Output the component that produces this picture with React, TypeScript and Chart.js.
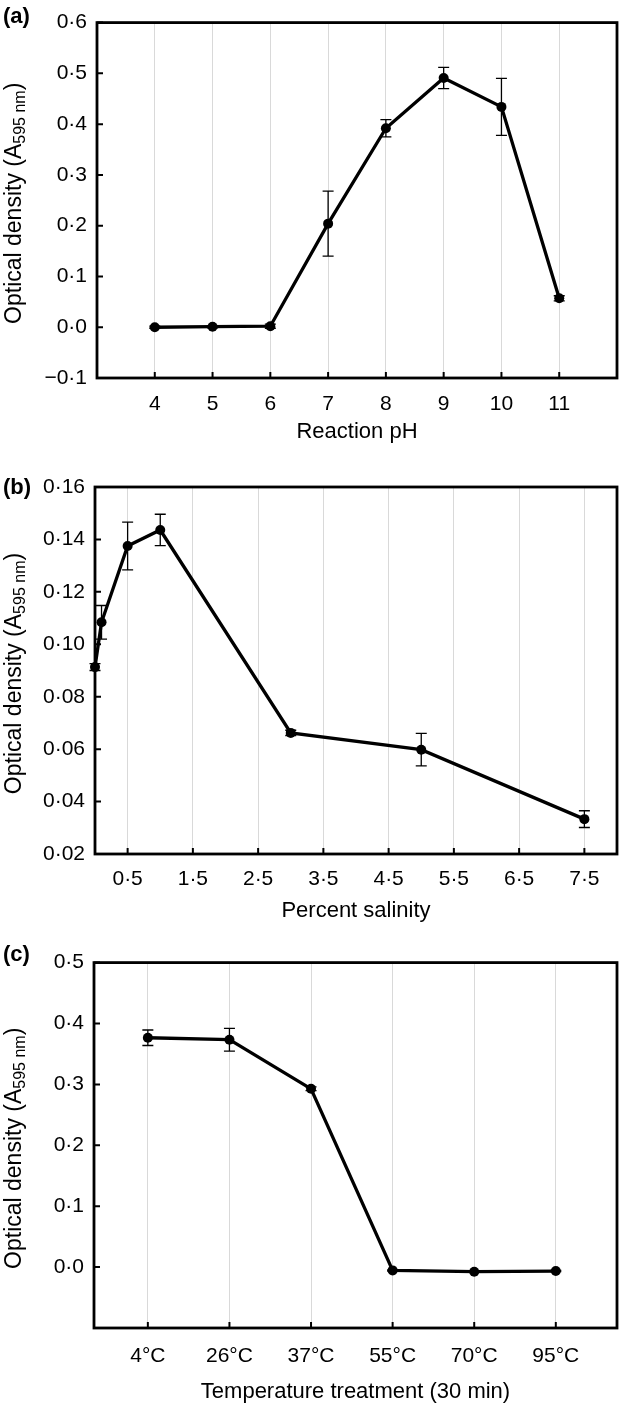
import React, { useEffect, useRef } from 'react';
import { Chart, registerables } from 'chart.js';

Chart.register(...registerables);

const FONT = "'Liberation Sans', Arial, Helvetica, sans-serif";

// ---- Panel (a): reaction pH ----
const phValues = [4, 5, 6, 7, 8, 9, 10, 11];
const phMeans = [0.0, 0.001, 0.002, 0.204, 0.392, 0.491, 0.434, 0.057];
const phErrors = [0.002, 0.002, 0.004, 0.064, 0.017, 0.021, 0.056, 0.005];
const phTicks = [4, 5, 6, 7, 8, 9, 10, 11];
const phYTicks = [-0.1, 0, 0.1, 0.2, 0.3, 0.4, 0.5, 0.6];

// ---- Panel (b): percent salinity ----
const salinityValues = [0, 0.1, 0.5, 1, 3, 5, 7.5];
const salinityMeans = [0.0913, 0.1084, 0.1375, 0.1436, 0.0662, 0.0598, 0.0333];
const salinityErrors = [0.0013, 0.0064, 0.0091, 0.006, 0.001, 0.0062, 0.0032];
const salinityTicks = [0.5, 1.5, 2.5, 3.5, 4.5, 5.5, 6.5, 7.5];
const salinityYTicks = [0.02, 0.04, 0.06, 0.08, 0.1, 0.12, 0.14, 0.16];

// ---- Panel (c): temperature treatment ----
const temperatureLabels = ['4°C', '26°C', '37°C', '55°C', '70°C', '95°C'];
const temperatureMeans = [0.3766, 0.3734, 0.2928, -0.0054, -0.0075, -0.0065];
const temperatureErrors = [0.0127, 0.0187, 0.003, 0.001, 0.001, 0.001];
const temperatureYTicks = [-0.1, 0, 0.1, 0.2, 0.3, 0.4, 0.5];

const fmt = (v: number, d: number) => {
  if (Math.abs(v) < 1e-9) return (0).toFixed(d).replace('.', '·');
  const s = Math.abs(v).toFixed(d).replace('.', '·');
  return v < 0 ? '−' + s : s;
};

type Panel = {
  key: string;
  label: string;
  top: number;
  height: number;
  plotLeft: number;
  plotRight: number;
  plotTop: number;
  plotBottom: number;
  xs: number[];
  ys: number[];
  errs: number[];
  xMin: number;
  xMax: number;
  xTicks: number[];
  xTickLabel: (v: number) => string;
  yMin: number;
  yMax: number;
  yTicks: number[];
  yTickLabel: (v: number) => string;
  xTitle: string;
  xTickPadding: number;
  xTitlePadding: number;
  panelLabelY: number;
};

const panels: Panel[] = [
  {
    key: 'a',
    label: '(a)',
    top: 0,
    height: 460,
    plotLeft: 97,
    plotRight: 620,
    plotTop: 13,
    plotBottom: 378,
    xs: phValues,
    ys: phMeans,
    errs: phErrors,
    xMin: 3,
    xMax: 12,
    xTicks: phTicks,
    xTickLabel: (v) => String(v),
    yMin: -0.1,
    yMax: 0.6,
    yTicks: phYTicks,
    yTickLabel: (v) => fmt(v, 1),
    xTitle: 'Reaction pH',
    xTickPadding: 14,
    xTitlePadding: 15,
    panelLabelY: 17,
  },
  {
    key: 'b',
    label: '(b)',
    top: 460,
    height: 480,
    plotLeft: 95,
    plotRight: 620,
    plotTop: 27,
    plotBottom: 394,
    xs: salinityValues,
    ys: salinityMeans,
    errs: salinityErrors,
    xMin: 0,
    xMax: 8,
    xTicks: salinityTicks,
    xTickLabel: (v) => fmt(v, 1),
    yMin: 0.02,
    yMax: 0.16,
    yTicks: salinityYTicks,
    yTickLabel: (v) => fmt(v, 2),
    xTitle: 'Percent salinity',
    xTickPadding: 13,
    xTitlePadding: 16,
    panelLabelY: 28,
  },
  {
    key: 'c',
    label: '(c)',
    top: 940,
    height: 465,
    plotLeft: 94,
    plotRight: 620,
    plotTop: 19,
    plotBottom: 388,
    xs: temperatureLabels.map((_, i) => i),
    ys: temperatureMeans,
    errs: temperatureErrors,
    xMin: -0.66,
    xMax: 5.75,
    xTicks: temperatureLabels.map((_, i) => i),
    xTickLabel: (v) => temperatureLabels[Math.round(v)] ?? '',
    yMin: -0.1,
    yMax: 0.5,
    yTicks: temperatureYTicks,
    yTickLabel: (v) => (Math.abs(v + 0.1) < 1e-9 ? '' : fmt(v, 1)),
    xTitle: 'Temperature treatment (30 min)',
    xTickPadding: 16,
    xTitlePadding: 0,
    panelLabelY: 15,
  },
];

function makePlugins(p: Panel) {
  const errorBars = {
    id: 'errorBars' + p.key,
    beforeDatasetsDraw(chart: any) {
      const xs = chart.scales.x;
      const ys = chart.scales.y;
      const ctx = chart.ctx;
      ctx.save();
      ctx.strokeStyle = '#000';
      ctx.lineWidth = 1.3;
      p.xs.forEach((xv, i) => {
        const px = xs.getPixelForValue(xv);
        const hi = ys.getPixelForValue(p.ys[i] + p.errs[i]);
        const lo = ys.getPixelForValue(p.ys[i] - p.errs[i]);
        ctx.beginPath();
        ctx.moveTo(px, hi);
        ctx.lineTo(px, lo);
        ctx.moveTo(px - 5.5, hi);
        ctx.lineTo(px + 5.5, hi);
        ctx.moveTo(px - 5.5, lo);
        ctx.lineTo(px + 5.5, lo);
        ctx.stroke();
      });
      ctx.restore();
    },
  };

  const frame = {
    id: 'frame' + p.key,
    afterDraw(chart: any) {
      const { ctx, chartArea } = chart;
      const { left, right, top, bottom } = chartArea;
      ctx.save();
      ctx.strokeStyle = '#000';
      ctx.lineWidth = 2;
      ctx.beginPath();
      chart.scales.x.ticks.forEach((t: any) => {
        const px = chart.scales.x.getPixelForValue(t.value);
        ctx.moveTo(px, bottom);
        ctx.lineTo(px, bottom - 6);
      });
      chart.scales.y.ticks.forEach((t: any) => {
        const py = chart.scales.y.getPixelForValue(t.value);
        ctx.moveTo(left, py);
        ctx.lineTo(left + 6, py);
      });
      ctx.stroke();
      ctx.lineWidth = 2.8;
      ctx.strokeRect(left, top, right - left, bottom - top);
      ctx.restore();
    },
  };

  const texts = {
    id: 'texts' + p.key,
    afterDraw(chart: any) {
      const { ctx, chartArea } = chart;
      ctx.save();
      ctx.fillStyle = '#000';
      ctx.font = `bold 22px ${FONT}`;
      ctx.textAlign = 'left';
      ctx.textBaseline = 'middle';
      ctx.fillText(p.label, 3, p.panelLabelY);
      const main1 = 'Optical density (A';
      const sub = '595 nm';
      const main2 = ')';
      const bigFont = `23px ${FONT}`;
      const smallFont = `16px ${FONT}`;
      ctx.font = bigFont;
      const w1 = ctx.measureText(main1).width;
      const w3 = ctx.measureText(main2).width;
      ctx.font = smallFont;
      const w2 = ctx.measureText(sub).width;
      const total = w1 + w2 + w3;
      const cy = (chartArea.top + chartArea.bottom) / 2 + 3;
      ctx.translate(21, cy);
      ctx.rotate(-Math.PI / 2);
      ctx.textBaseline = 'alphabetic';
      let x = -total / 2;
      ctx.font = bigFont;
      ctx.fillText(main1, x, 0);
      x += w1;
      ctx.font = smallFont;
      ctx.fillText(sub, x, 4);
      x += w2;
      ctx.font = bigFont;
      ctx.fillText(main2, x, 0);
      ctx.restore();
    },
  };
  return [errorBars, frame, texts];
}

function makeConfig(p: Panel): any {
  const tickFont = { family: FONT, size: 21 };
  return {
    type: 'line',
    data: {
      datasets: [
        {
          data: p.xs.map((x, i) => ({ x, y: p.ys[i] })),
          borderColor: '#000',
          backgroundColor: '#000',
          borderWidth: 3.3,
          pointRadius: 5,
          pointHoverRadius: 5,
          pointBackgroundColor: '#000',
          pointBorderWidth: 0,
          tension: 0,
          clip: false,
        },
      ],
    },
    options: {
      animation: false,
      responsive: false,
      maintainAspectRatio: false,
      events: [],
      layout: {
        padding: { left: 0, right: 622 - p.plotRight, top: p.plotTop, bottom: 0 },
      },
      plugins: {
        legend: { display: false },
        tooltip: { enabled: false },
        title: { display: false },
      },
      scales: {
        x: {
          type: 'linear',
          min: p.xMin,
          max: p.xMax,
          afterBuildTicks: (s: any) => {
            s.ticks = p.xTicks.map((v) => ({ value: v }));
          },
          afterFit: (s: any) => {
            s.height = p.height - p.plotBottom;
          },
          grid: { display: true, color: '#d9d9d9', lineWidth: 1, drawTicks: false },
          border: { display: false },
          ticks: {
            font: tickFont,
            color: '#000',
            padding: p.xTickPadding,
            autoSkip: false,
            maxRotation: 0,
            minRotation: 0,
            callback: (v: any) => p.xTickLabel(Number(v)),
          },
          title: {
            display: true,
            text: p.xTitle,
            font: { family: FONT, size: 22 },
            color: '#000',
            padding: { top: 0, bottom: p.xTitlePadding },
          },
        },
        y: {
          type: 'linear',
          min: p.yMin,
          max: p.yMax,
          afterBuildTicks: (s: any) => {
            s.ticks = p.yTicks.map((v) => ({ value: v }));
          },
          afterFit: (s: any) => {
            s.width = p.plotLeft;
          },
          grid: { display: false, drawTicks: false },
          border: { display: false },
          ticks: {
            font: tickFont,
            color: '#000',
            padding: 10,
            autoSkip: false,
            callback: (v: any) => p.yTickLabel(Number(v)),
          },
        },
      },
    },
    plugins: makePlugins(p),
  };
}

function PanelChart({ p }: { p: Panel }) {
  const ref = useRef<HTMLCanvasElement | null>(null);
  useEffect(() => {
    if (!ref.current) return;
    const chart = new Chart(ref.current, makeConfig(p));
    return () => chart.destroy();
  }, [p]);
  return (
    <canvas
      ref={ref}
      width={622}
      height={p.height}
      style={{ position: 'absolute', left: 0, top: p.top, width: 622, height: p.height }}
    />
  );
}

export default function App() {
  return (
    <div
      style={{
        position: 'absolute',
        left: 0,
        top: 0,
        width: 622,
        height: 1405,
        background: '#fff',
        overflow: 'hidden',
      }}
    >
      {panels.map((p) => (
        <PanelChart key={p.key} p={p} />
      ))}
    </div>
  );
}
